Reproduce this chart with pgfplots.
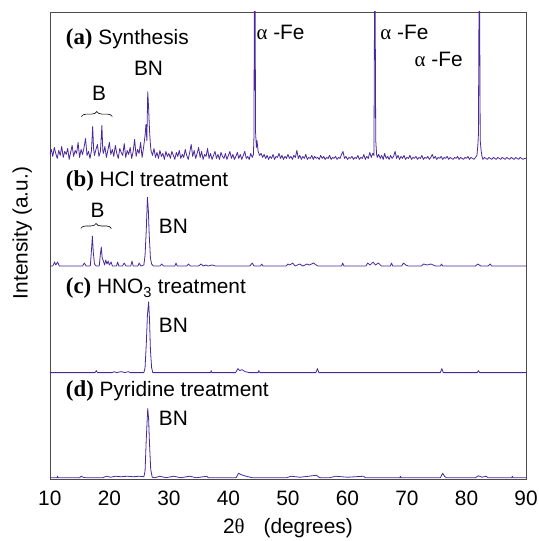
\documentclass[border=0pt]{standalone}
\usepackage{fontspec}
\setmainfont{Liberation Sans}
\newfontfamily\serif{Liberation Serif}
\usepackage{pgfplots}
\pgfplotsset{compat=1.18}
\usetikzlibrary{decorations.pathreplacing}

\definecolor{xrd}{RGB}{75,40,155}
\newcommand{\plab}[1]{{\serif\fontsize{23}{25}\selectfont\bfseries (#1)}}

% panel (a): synthesis, baseline at 320
\pgfplotstableread{
x y
10.00 326
10.25 331
10.50 324
10.75 333
11.00 327
11.25 322
11.50 330
11.75 325
12.00 334
12.25 323
12.50 329
12.75 326
13.00 332
13.25 321
13.50 328
13.75 335
14.00 324
14.25 330
14.50 327
14.75 338
15.00 323
15.25 331
15.50 326
15.75 333
16.00 342
16.25 325
16.50 329
16.75 322
17.00 330
17.20 354
17.35 332
17.50 325
17.75 331
18.00 336
18.25 324
18.50 329
18.75 355
18.90 330
19.00 327
19.25 334
19.50 323
19.75 330
20.00 338
20.25 326
20.50 331
20.75 324
21.00 335
21.25 327
21.50 322
21.75 332
22.00 328
22.25 325
22.50 337
22.75 323
23.00 330
23.25 326
23.50 333
23.75 322
24.00 329
24.25 341
24.50 324
24.75 331
25.00 327
25.25 338
25.50 323
25.75 333
26.00 345
26.15 356
26.30 340
26.45 389
26.60 372
26.75 350
26.90 336
27.00 330
27.25 325
27.50 332
27.75 323
28.00 328
28.25 322
28.50 330
28.75 324
29.00 327
29.25 321
29.50 329
29.75 324
30.00 327
30.25 322
30.50 329
30.75 325
31.00 321
31.25 328
31.50 324
31.75 330
32.00 322
32.25 326
32.50 323
32.75 331
33.00 325
33.25 321
33.50 328
33.75 336
34.00 324
34.25 330
34.50 322
34.75 327
35.00 333
35.25 323
35.50 329
35.75 321
36.00 326
36.25 324
36.50 332
36.75 322
37.00 327
37.25 321
37.50 325
37.75 329
38.00 322
38.25 326
38.50 321
38.75 328
39.00 324
39.25 322
39.50 327
39.75 321
40.00 325
40.25 329
40.50 322
40.75 326
41.00 321
41.25 324
41.50 328
41.75 322
42.00 326
42.25 321
42.50 325
42.75 329
43.00 322
43.25 324
43.50 321
43.75 327
44.00 323
44.20 326
44.30 345
44.35 480
44.50 480
44.55 350
44.70 333
44.80 340
45.00 329
45.25 325
45.50 327
45.75 323
46.00 326
46.25 322
46.50 325
46.75 321
47.00 324
47.25 322
47.50 326
47.75 321
48.00 324
48.25 323
48.50 327
48.75 322
49.00 325
49.25 321
49.50 324
49.75 322
50.00 326
50.25 322
50.50 324
50.75 321
51.00 325
51.25 323
51.50 330
51.75 322
52.00 325
52.25 321
52.50 324
52.75 322
53.00 326
53.25 321
53.50 323
53.75 322
54.00 325
54.25 321
54.50 324
54.75 322
55.00 323
55.25 321
55.50 325
55.75 322
56.00 324
56.25 321
56.50 323
56.75 322
57.00 325
57.25 321
57.50 323
57.75 322
58.00 324
58.25 321
58.50 323
58.75 322
59.00 326
59.25 329
59.50 322
59.75 324
60.00 321
60.25 323
60.50 322
60.75 324
61.00 321
61.25 323
61.50 322
61.75 325
62.00 321
62.25 323
62.50 322
62.75 326
63.00 321
63.25 324
63.50 322
63.75 328
64.00 323
64.25 327
64.45 325
64.55 480
64.65 480
64.75 340
64.90 326
65.00 323
65.25 326
65.50 322
65.75 325
66.00 321
66.25 327
66.50 322
66.75 324
67.00 321
67.25 325
67.50 322
67.75 324
68.00 329
68.25 322
68.50 325
68.75 321
69.00 324
69.25 322
69.50 325
69.75 321
70.00 323
70.25 322
70.50 325
70.75 321
71.00 323
71.25 322
71.50 324
71.75 321
72.00 323
72.25 322
72.50 325
72.75 321
73.00 323
73.25 322
73.50 324
73.75 321
74.00 323
74.25 326
74.50 322
74.75 324
75.00 321
75.25 323
75.50 322
75.75 324
76.00 321
76.25 323
76.50 322
76.75 324
77.00 321
77.25 323
77.50 322
77.75 321
78.00 323
78.25 322
78.50 324
78.75 321
79.00 323
79.25 322
79.50 321
79.75 323
80.00 322
80.25 324
80.50 321
80.75 323
81.00 322
81.25 321
81.50 323
81.75 325
81.90 335
82.00 346
82.10 480
82.20 480
82.30 340
82.45 330
82.60 324
82.75 321
83.00 323
83.25 322
83.50 321
83.75 323
84.00 322
84.25 321
84.50 323
84.75 322
85.00 321
85.25 323
85.50 322
85.75 321
86.00 323
86.25 322
86.50 321
86.75 323
87.00 322
87.25 321
87.50 323
87.75 322
88.00 321
88.25 323
88.50 322
88.75 321
89.00 323
89.25 322
89.50 321
89.75 322
90.00 322
}\synth

% panel (b): HCl treatment, baseline at 214
\pgfplotstableread{
x y
10.0 214
10.5 214
10.8 218
11.0 215
11.3 218
11.6 214
15.5 214
15.8 217
16.1 214
16.8 214
17.0 230
17.15 244
17.3 228
17.5 216
17.8 214
18.3 214
18.5 226
18.65 233
18.8 222
19.0 219
19.2 215
19.4 220
19.6 216
19.8 219
20.0 215
20.3 218
20.5 214
21.2 214
21.4 218
21.6 214
22.2 214
22.5 217
22.8 214
23.6 214
23.8 219
24.0 214
24.8 214
25.0 217
25.3 214
25.8 215
26.0 225
26.2 250
26.4 283
26.55 270
26.7 245
26.9 222
27.1 216
27.4 214
28.5 214
28.8 216
29.1 214
31.0 214
31.2 217
31.4 214
33.0 214
33.3 216
33.6 214
35.0 214
35.4 216
35.8 214
36.2 215
36.6 214
37.3 215
37.8 214
43.6 214
44.0 217
44.3 214
45.4 214
45.6 216
45.8 214
49.7 214
50.0 216
50.3 215
50.8 217
51.2 214
52.0 216
52.5 214
53.2 216
53.6 215
54.3 217
55.0 214
59.0 214
59.2 217
59.4 214
63.1 214
63.4 217
63.8 215
64.3 218
64.7 215
65.2 217
65.7 214
67.2 214
67.4 217
67.6 214
69.1 214
69.4 217
69.8 215
70.2 214
72.4 214
72.8 216
73.4 215
74.0 216
74.8 214
75.6 214
75.8 216
76.0 214
81.5 214
81.9 216
82.4 214
83.6 214
84.0 216
84.2 214
90.0 214
}\hcl

% panel (c): HNO3 treatment, baseline at 107
\pgfplotstableread{
x y
10.0 107
17.6 107
17.8 109
18.0 107
20.5 107
20.8 108
21.2 107
22.0 108
22.6 107
23.2 108
23.5 107
25.8 107
26.0 112
26.2 135
26.4 165
26.6 178
26.75 160
26.9 130
27.1 112
27.3 107
37.0 107
37.1 109
37.2 107
41.2 107
41.6 111
41.9 109
42.3 110
42.8 108
43.5 107
45.0 107
45.1 109
45.3 107
54.7 107
54.95 111
55.2 107
75.6 107
75.85 111
76.1 107
81.8 107
82.0 109
82.2 107
90.0 107
}\hno

% panel (d): pyridine treatment, baseline at 1.5
\pgfplotstableread{
x y
10.0 1.5
11.2 1.5
11.3 3
11.4 1.5
15.0 1.5
15.3 3
15.6 2
16.0 1.5
18.9 1.5
19.5 3
20.2 2
21.0 3
22.0 2.5
23.0 3
24.0 2.5
25.0 3
25.8 2.5
26.0 8
26.2 40
26.45 71
26.6 60
26.75 35
26.95 10
27.2 2
27.6 1.5
28.5 3
29.5 1.5
30.8 3
32.0 1.5
33.5 3
34.6 1.5
36.4 3
36.6 1.5
41.3 1.5
41.7 6
42.0 5
42.4 4
43.0 3
44.0 1.5
49.8 1.5
50.5 3
52.0 2
53.5 3
54.8 4
55.2 2
55.5 1.5
57.0 1.5
58.0 3
60.0 2
62.7 3
63.0 1.5
68.8 1.5
68.9 3
69.0 1.5
75.6 1.5
76.0 6
76.3 3
76.6 1.5
81.5 1.5
82.0 3.5
82.6 2
83.3 3
83.6 1.5
87.6 1.5
87.7 3
87.8 1.5
90.0 1.5
}\pyr

\begin{document}
\fontsize{21}{25}\selectfont
\begin{tikzpicture}[font=\fontsize{21}{25}\selectfont]
\begin{axis}[
    name=ax,
    width=478bp, height=469bp,
    scale only axis,
    xmin=10, xmax=90,
    ymin=0, ymax=469,
    xtick={10,20,...,90},
    ytick=\empty,
    major tick length=0pt,
    /pgf/number format/assume math mode=true,
    tick label style={font=\fontsize{21}{25}\selectfont},
    xticklabel style={yshift=-5bp},
    axis line style={gray!60!black, line width=0.6bp},
    xlabel={2{\serif θ}\hspace{19bp}(degrees)},
    xlabel style={yshift=2bp},
    ylabel={Intensity (a.u.)},
    ylabel style={at={(axis description cs:-0.058,0.527)}, anchor=center},
    label style={font=\fontsize{21}{25}\selectfont},
]
\addplot[xrd, no markers, line width=0.8bp, line join=round] table[x=x, y=y] {\synth};
\addplot[xrd, no markers, line width=0.8bp, line join=round] table[x=x, y=y] {\hcl};
\addplot[xrd, no markers, line width=0.8bp, line join=round] table[x=x, y=y] {\hno};
\addplot[xrd, no markers, line width=0.8bp, line join=round] table[x=x, y=y] {\pyr};

% panel labels
\node[anchor=base west, inner sep=0] at (axis cs:12.68,436) {\plab{a} Synthesis};
\node[anchor=base west, inner sep=0] at (axis cs:12.68,294.3) {\plab{b} HCl treatment};
\node[anchor=base west, inner sep=0] at (axis cs:12.68,186) {\plab{c} HNO\textsubscript{3} treatment};
\node[anchor=base west, inner sep=0] at (axis cs:12.68,82.7) {\plab{d} Pyridine treatment};

% peak annotations
\node[anchor=base west, inner sep=0] at (axis cs:24.11,405) {BN};
\node[anchor=base west, inner sep=0] at (axis cs:17.08,380) {B};
\draw[decorate, decoration={brace, amplitude=5bp}, line width=0.6bp] (axis cs:15.30,364) -- (axis cs:20.49,364);
\node[anchor=base west, inner sep=0] at (axis cs:44.70,441.7) {{\serif α} -Fe};
\node[anchor=base west, inner sep=0] at (axis cs:65.51,441.7) {{\serif α} -Fe};
\node[anchor=base west, inner sep=0] at (axis cs:71.26,414.3) {{\serif α} -Fe};

\node[anchor=base west, inner sep=0] at (axis cs:16.81,262.7) {B};
\draw[decorate, decoration={brace, amplitude=5bp}, line width=0.6bp] (axis cs:15.20,251.7) -- (axis cs:20.33,251.7);
\node[anchor=base west, inner sep=0] at (axis cs:28.30,247) {BN};
\node[anchor=base west, inner sep=0] at (axis cs:28.30,147) {BN};
\node[anchor=base west, inner sep=0] at (axis cs:28.30,54.3) {BN};
\end{axis}
\pgfresetboundingbox
\path ([shift={(-50bp,-62bp)}]ax.south west) rectangle ([shift={(12bp,12bp)}]ax.north east);
\end{tikzpicture}
\end{document}
